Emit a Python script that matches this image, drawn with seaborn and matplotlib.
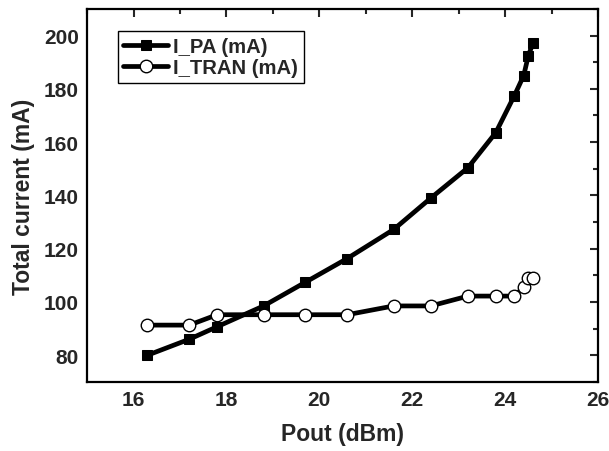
import matplotlib
matplotlib.use("Agg")
import matplotlib.pyplot as plt
import seaborn as sns
import pandas as pd
from matplotlib.ticker import MultipleLocator

pout = [16.3, 17.2, 17.8, 18.8, 19.7, 20.6, 21.6, 22.4, 23.2, 23.8, 24.2, 24.4, 24.5, 24.6]
i_pa = [80.0, 86.0, 90.7, 98.5, 107.4, 116.3, 127.2, 139.0, 150.4, 163.6, 177.5, 185.0, 192.5, 197.2]
i_tran = [91.3, 91.3, 95.2, 95.2, 95.2, 95.2, 98.5, 98.5, 102.2, 102.2, 102.2, 105.5, 109.1, 109.1]

sns.set_style("white")
plt.rcParams['font.family'] = ['Liberation Sans', 'DejaVu Sans']
plt.rcParams['font.weight'] = 'bold'

fig = plt.figure(figsize=(6.09, 4.52), dpi=100)
ax = fig.add_axes([0.143, 0.153, 0.839, 0.825])

df = pd.DataFrame({"x": pout, "pa": i_pa, "tran": i_tran})
sns.lineplot(data=df, x="x", y="pa", ax=ax, color="black", linewidth=3.4,
             marker="s", markersize=7.5, markeredgecolor="black", markerfacecolor="black",
             label="I_PA (mA)")
sns.lineplot(data=df, x="x", y="tran", ax=ax, color="black", linewidth=3.4,
             marker="o", markersize=9, markeredgecolor="black", markerfacecolor="white",
             markeredgewidth=1.0, label="I_TRAN (mA)")

ax.set_xlim(15, 26)
ax.set_ylim(70, 210)
ax.xaxis.set_major_locator(MultipleLocator(2))
ax.xaxis.set_minor_locator(MultipleLocator(1))
ax.yaxis.set_major_locator(MultipleLocator(20))
ax.yaxis.set_minor_locator(MultipleLocator(10))
ax.tick_params(which='both', direction='in', top=True, right=True, width=1.5, labelsize=15)
ax.tick_params(which='major', length=6, pad=6)
ax.tick_params(which='minor', length=3.5)
for lbl in ax.get_xticklabels() + ax.get_yticklabels():
    lbl.set_fontweight('bold')
for s in ax.spines.values():
    s.set_linewidth(1.6)
    s.set_color('black')

ax.set_xlabel("Pout (dBm)", fontsize=16.5, fontweight='bold', labelpad=9)
ax.set_ylabel("Total current (mA)", fontsize=16.5, fontweight='bold', labelpad=6)

leg = ax.legend(loc='upper left', bbox_to_anchor=(0.06, 0.94), fontsize=14.6,
                frameon=True, fancybox=False, edgecolor='black', framealpha=1,
                handlelength=2.2, borderpad=0.28, labelspacing=0.1, handletextpad=0.25,
                borderaxespad=0)
leg.get_frame().set_linewidth(1.0)
for t in leg.get_texts():
    t.set_fontweight('bold')

fig.savefig("out.png", dpi=100)
